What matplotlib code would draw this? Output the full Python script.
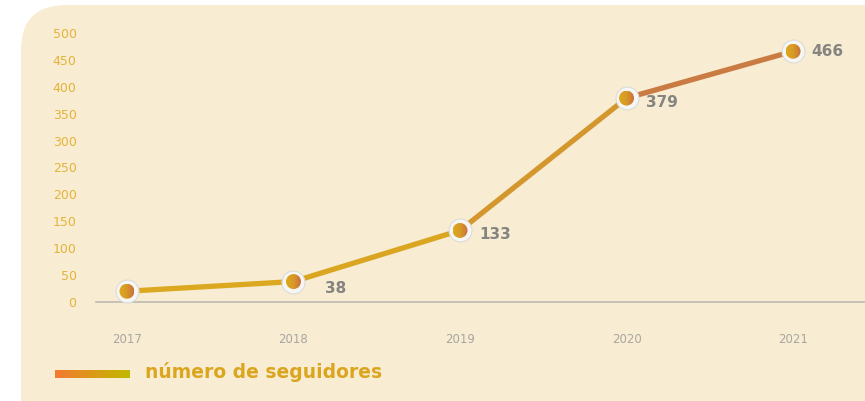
import numpy as np
import matplotlib.pyplot as plt
import matplotlib.transforms as mtransforms
from matplotlib.patches import FancyBboxPatch, Circle
from matplotlib.collections import LineCollection
from matplotlib.colors import LinearSegmentedColormap

years = [2017, 2018, 2019, 2020, 2021]
seguidores = [20, 38, 133, 379, 466]
etiquetas = ["", "38", "133", "379", "466"]
y_ticks = [0, 50, 100, 150, 200, 250, 300, 350, 400, 450, 500]
legend_label = "número de seguidores"

W, H = 865, 401
fig = plt.figure(figsize=(W / 100, H / 100), dpi=100, facecolor="white")

# cream panel, only the top-left corner shows as rounded
panel = FancyBboxPatch((21, -60), 1100, H - 5 + 60,
                       boxstyle="round,pad=0,rounding_size=45",
                       transform=mtransforms.IdentityTransform(),
                       fc="#f8ecd2", ec="none", zorder=-10)
fig.patches.append(panel)

ax = fig.add_axes([96 / W, (H - 302) / H, (W - 96) / W, 279.8 / H])
ax.set_facecolor("none")
ax.set_xlim(2016.814, 2021.432)
ax.set_ylim(0, 520)

for s in ["top", "right", "left"]:
    ax.spines[s].set_visible(False)
ax.spines["bottom"].set_color("#bdbab3")
ax.spines["bottom"].set_linewidth(1.2)

ax.set_yticks(y_ticks)
ax.set_xticks(years)
ax.tick_params(axis="y", length=0, pad=14, labelsize=9, labelcolor="#e3b43a")
ax.tick_params(axis="x", length=0, pad=22, labelsize=8.5, labelcolor="#a9a6a0")

# line colours run from gold to brownish orange
line_cmap = LinearSegmentedColormap.from_list(
    "seg", [(0, "#dcaa1e"), (0.5, "#d9a421"), (0.75, "#d08b3b"), (1, "#c46c4a")])
pts = np.column_stack([years, seguidores])
segs = np.stack([pts[:-1], pts[1:]], axis=1)
mids = (np.array(years[:-1]) + np.array(years[1:])) / 2
seg_colors = line_cmap((mids - years[0]) / (years[-1] - years[0]))
lc = LineCollection(segs, colors=seg_colors, linewidths=3.8,
                    capstyle="round", joinstyle="round", zorder=2)
ax.add_collection(lc)

# white ring round each marker
ax.plot(years, seguidores, "o", ms=16.5, mfc="#f6f6f4", mec="#dcdcd8",
        mew=0.8, zorder=3, clip_on=False)

# gradient fill inside the markers
fill_cmap = LinearSegmentedColormap.from_list("dot", ["#dea81c", "#d89a26", "#c9703e"])
grad = np.linspace(0, 1, 64).reshape(1, -1)
r_px = 7.5
inv = ax.transData.inverted()
for x, y in zip(years, seguidores):
    px, py = ax.transData.transform((x, y))
    (x0, y0) = inv.transform((px - r_px, py - r_px))
    (x1, y1) = inv.transform((px + r_px, py + r_px))
    im = ax.imshow(grad, cmap=fill_cmap, extent=[x0, x1, y0, y1],
                   aspect="auto", zorder=4, interpolation="bilinear")
    circ = Circle((px, py), r_px, transform=mtransforms.IdentityTransform())
    im.set_clip_path(circ)
ax.set_xlim(2016.814, 2021.432)
ax.set_ylim(0, 520)

offsets = [(0, 0), (23, -5), (14, -3), (14, -3), (13, 0)]
for x, y, lab, off in zip(years, seguidores, etiquetas, offsets):
    if lab:
        ax.annotate(lab, (x, y), xytext=off, textcoords="offset points",
                    ha="left", va="center", fontsize=11, fontweight="bold",
                    color="#858480", zorder=5)

# legend: gradient swatch and label
lax = fig.add_axes([55 / W, (H - 378) / H, 75 / W, 8 / H])
lax.imshow(grad, cmap=LinearSegmentedColormap.from_list("leg", ["#f47a30", "#c2b800"]),
           aspect="auto")
lax.axis("off")
fig.text(145 / W, (H - 372) / H, legend_label, ha="left", va="center",
         fontsize=13.5, fontweight="bold", color="#dba51e")

fig.savefig("out.png", dpi=100)
